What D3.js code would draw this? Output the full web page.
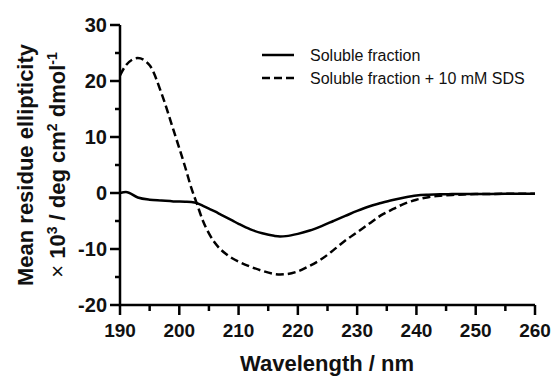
<!DOCTYPE html>
<html>
<head>
<meta charset="utf-8">
<script src="https://cdn.jsdelivr.net/npm/d3@7"></script>
<style>
  body { margin: 0; background: #fff; }
  text { font-family: "Liberation Sans", Arial, sans-serif; }
</style>
</head>
<body>
<svg id="chart"></svg>
<script>
// wavelengths (nm)
const wavelength = [190,191,193,195,197,199,201,202,203,204,205,206,207,208,209,210,212,214,216,217,218,220,222,224,226,228,230,232,234,236,238,240,242,244,246,248,250,255,260]
// soluble fraction
const soluble = [0.0,0.2,-0.8,-1.2,-1.35,-1.5,-1.55,-1.6,-1.8,-2.3,-2.8,-3.3,-3.85,-4.4,-4.95,-5.5,-6.5,-7.2,-7.65,-7.75,-7.7,-7.3,-6.7,-5.9,-5.0,-4.1,-3.2,-2.4,-1.8,-1.25,-0.8,-0.45,-0.3,-0.22,-0.2,-0.18,-0.18,-0.15,-0.15]
// soluble fraction + 10 mM SDS
const withSDS = [21.0,22.8,24.1,22.8,17.8,11.3,4.6,1.0,-2.0,-5.0,-7.2,-8.9,-10.1,-11.0,-11.7,-12.25,-13.15,-13.9,-14.45,-14.55,-14.5,-14.0,-13.0,-11.8,-10.2,-8.5,-7.0,-5.5,-4.0,-2.9,-1.9,-1.2,-0.75,-0.5,-0.35,-0.25,-0.2,-0.15,-0.15]

const xTicks = [190,200,210,220,230,240,250,260]
const xMinor = [195,205,215,225,235,245,255]
const yTicks = [-20,-10,0,10,20,30]
const yMinor = [-15,-5,5,15,25]
const seriesNames = ['Soluble fraction', 'Soluble fraction + 10 mM SDS']

const width = 555, height = 378
const svg = d3.select('#chart')
    .attr('width', width)
    .attr('height', height)

const x = d3.scaleLinear().domain([190, 260]).range([120, 535])
const y = d3.scaleLinear().domain([-20, 30]).range([305, 25])
const x0 = x.range()[0], yBase = y.range()[0]

// axes drawn from the scales
const axes = svg.append('g')
    .attr('stroke', '#000').attr('stroke-width', 2.5).attr('fill', 'none')
axes.append('path').attr('d', `M${x0},${y(30)}V${yBase}H${x(260)}`)

axes.selectAll('.xmaj').data(xTicks).join('line')
    .attr('x1', d => x(d)).attr('x2', d => x(d))
    .attr('y1', yBase).attr('y2', yBase + 10)
axes.selectAll('.xmin').data(xMinor).join('line')
    .attr('x1', d => x(d)).attr('x2', d => x(d))
    .attr('y1', yBase).attr('y2', yBase + 6)
    .attr('class', 'xmin')
axes.selectAll('.ymaj').data(yTicks).join('line')
    .attr('class', 'ymaj')
    .attr('x1', x0 - 10).attr('x2', x0)
    .attr('y1', d => y(d)).attr('y2', d => y(d))
axes.selectAll('.ymin').data(yMinor).join('line')
    .attr('class', 'ymin')
    .attr('x1', x0 - 5).attr('x2', x0)
    .attr('y1', d => y(d)).attr('y2', d => y(d))

svg.append('g').selectAll('text').data(xTicks).join('text')
    .attr('x', d => x(d)).attr('y', yBase + 32)
    .attr('text-anchor', 'middle')
    .attr('font-size', 19).attr('font-weight', 'bold').attr('fill', '#111')
    .text(d => d)

svg.append('g').selectAll('text').data(yTicks).join('text')
    .attr('x', x0 - 13).attr('y', d => y(d) + 7)
    .attr('text-anchor', 'end')
    .attr('font-size', 20).attr('font-weight', 'bold').attr('fill', '#111')
    .text(d => d)

// curves
const line = vals => d3.line()
    .x((d, i) => x(wavelength[i]))
    .y(d => y(d))
    .curve(d3.curveMonotoneX)(vals)

svg.append('path')
    .attr('d', line(soluble))
    .attr('fill', 'none')
    .attr('stroke', '#000')
    .attr('stroke-width', 2.5)

svg.append('path')
    .attr('d', line(withSDS))
    .attr('fill', 'none')
    .attr('stroke', '#000')
    .attr('stroke-width', 2.5)
    .attr('stroke-dasharray', '8,4')

// legend
const legend = svg.append('g')
seriesNames.forEach((name, i) => {
    const ly = 55 + i * 23
    legend.append('line')
        .attr('x1', 262).attr('x2', 294).attr('y1', ly).attr('y2', ly)
        .attr('stroke', '#000').attr('stroke-width', 2.5)
        .attr('stroke-dasharray', i === 1 ? '8,4' : null)
    legend.append('text')
        .attr('x', 310).attr('y', ly + 6)
        .attr('font-size', 16).attr('fill', '#111')
        .text(name)
})

// axis titles
svg.append('text')
    .attr('x', 327).attr('y', 371)
    .attr('text-anchor', 'middle')
    .attr('font-size', 22).attr('font-weight', 'bold').attr('fill', '#111')
    .text('Wavelength / nm')

const yTitle = svg.append('text')
    .attr('transform', 'translate(0,165) rotate(-90)')
    .attr('text-anchor', 'middle')
    .attr('font-size', 22).attr('font-weight', 'bold').attr('fill', '#111')
yTitle.append('tspan').attr('x', 0).attr('y', 33).text('Mean residue ellipticity')
const l2 = yTitle.append('tspan').attr('x', 0).attr('y', 65)
l2.append('tspan').attr('font-weight', 'normal').text('× ')
l2.append('tspan').text('10')
l2.append('tspan').attr('font-size', 14).attr('dy', -8).text('3')
l2.append('tspan').attr('dy', 8).text(' / deg cm')
l2.append('tspan').attr('font-size', 14).attr('dy', -8).text('2')
l2.append('tspan').attr('dy', 8).text(' dmol')
l2.append('tspan').attr('font-size', 14).attr('dy', -8).text('-1')
</script>
</body>
</html>
